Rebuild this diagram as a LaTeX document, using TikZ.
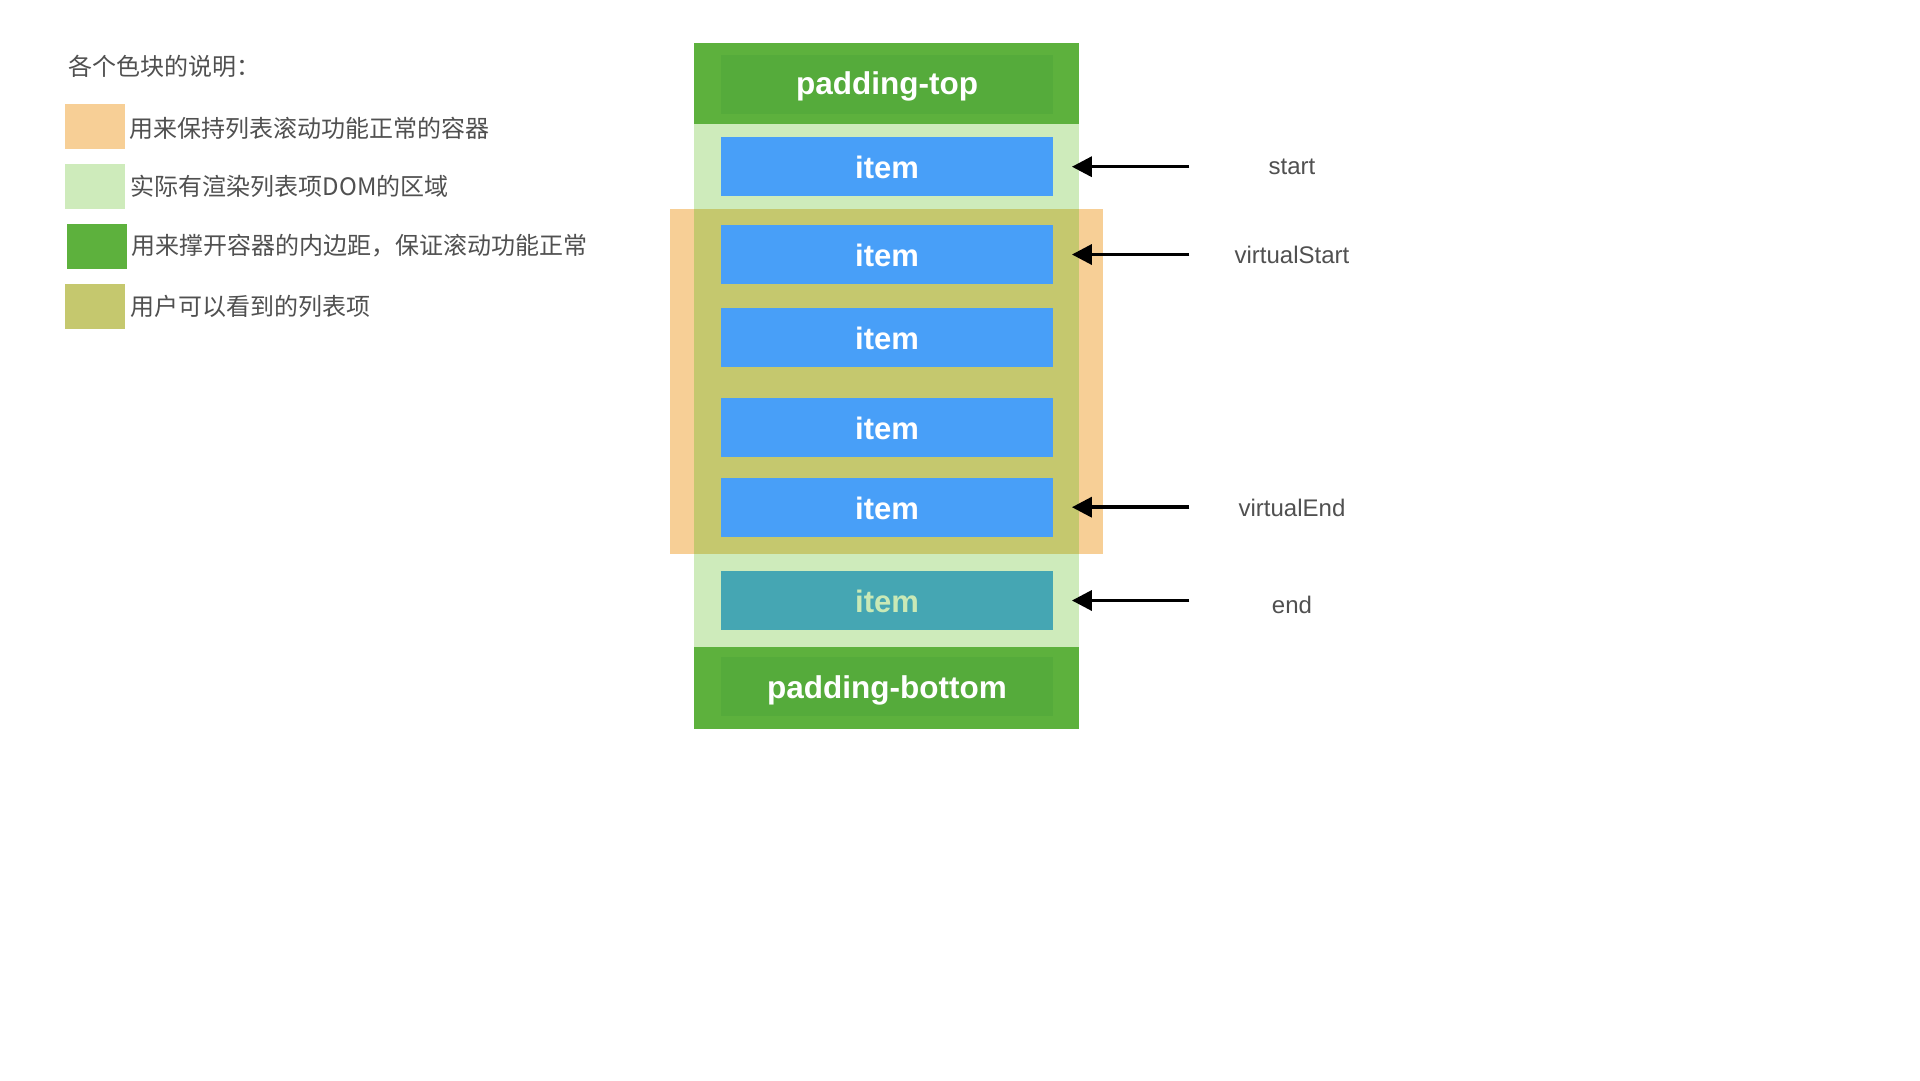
\documentclass[tikz,border=0pt]{standalone}
\usepackage{fontspec}
\setmainfont{Liberation Sans}
\newfontfamily\cjk{Noto Sans CJK SC}
\usetikzlibrary{arrows.meta}
\definecolor{dgreen}{HTML}{5DB13D}
\definecolor{dgreenin}{HTML}{55AB3B}
\definecolor{lgreen}{HTML}{CEEBBB}
\definecolor{orng}{HTML}{F7CF96}
\definecolor{olive}{HTML}{C5C86E}
\definecolor{iblue}{HTML}{489FF8}
\definecolor{tealbox}{HTML}{45A6B3}
\definecolor{tealtxt}{HTML}{C9E9B6}
\definecolor{gtxt}{HTML}{505050}
\tikzset{
  itembox/.style={fill=iblue, minimum width=332pt, minimum height=59pt, inner sep=0pt,
    text height=24.5pt, text depth=0pt,
    text=white, font=\fontsize{31}{36}\selectfont\bfseries},
  padbox/.style={fill=dgreenin, minimum width=332pt, minimum height=59pt, inner sep=0pt,
    text height=26.2pt, text depth=6.6pt,
    text=white, font=\fontsize{31.5}{36}\selectfont\bfseries},
  swatch/.style={minimum width=60pt, minimum height=45pt, inner sep=0pt, anchor=north west},
  legtext/.style={anchor=west, inner sep=0pt, text=gtxt, font=\cjk\fontsize{24}{29}\selectfont},
  lbl/.style={text=gtxt, font=\fontsize{24}{29}\selectfont, inner sep=0pt},
  ptr/.style={line width=3.5pt, -{Triangle[length=20pt,width=20pt]}}
}
\begin{document}
\begin{tikzpicture}[x=1pt,y=-1pt]
\fill[white] (0,0) rectangle (1920,1080);
\useasboundingbox (0,0) rectangle (1920,1080);

% legend
\node[anchor=west, inner sep=0pt, text=gtxt, font=\cjk\fontsize{24}{29}\selectfont] (title) at (68.3,66.7) {各个色块的说明：};
\node[swatch, fill=orng] (s1) at (65,104) {};
\node[swatch, fill=lgreen] (s2) at (65,163.3) {};
\node[swatch, fill=dgreen] (s3) at (66.5,223.5) {};
\node[swatch, fill=olive] (s4) at (65,283.5) {};
\node[legtext] (t1) at (129.5,128.5) {用来保持列表滚动功能正常的容器};
\node[legtext] (t2) at (130.5,186.7) {实际有渲染列表项DOM的区域};
\node[legtext] (t3) at (131.5,246) {用来撑开容器的内边距，保证滚动功能正常};
\node[legtext] (t4) at (130.5,306) {用户可以看到的列表项};

% container regions
\fill[lgreen] (694,124) rectangle (1079,646.7);
\fill[orng] (670,209) rectangle (1103.3,553.7);
\fill[olive] (694,209) rectangle (1079,553.7);
\fill[dgreen] (694,42.7) rectangle (1079,124);
\fill[dgreen] (694,646.7) rectangle (1079,728.7);

% padding boxes
\node[padbox] (ptop) at (887,84.5) {padding-top};
\node[padbox, text height=32pt] (pbot) at (887,686.2) {padding-bottom};

% items
\node[itembox] (i1) at (887,166.7) {item};
\node[itembox] (i2) at (887,254.5) {item};
\node[itembox] (i3) at (887,337.5) {item};
\node[itembox] (i4) at (887,427.3) {item};
\node[itembox] (i5) at (887,507.2) {item};
\node[itembox, fill=tealbox, text=tealtxt] (i6) at (887,600.5) {item};

% labels
\node[lbl] (lstart) at (1292,167) {start};
\node[lbl] (lvs) at (1292,255) {virtualStart};
\node[lbl] (lve) at (1292,508) {virtualEnd};
\node[lbl] (lend) at (1292,605) {end};

% arrow tails
\coordinate (a1) at (1189.3,166.7);
\coordinate (a2) at (1189.3,254.5);
\coordinate (a3) at (1189.3,507.2);
\coordinate (a4) at (1189.3,600.5);

\draw[ptr] (a1) -- ([xshift=18.7pt]i1.east);
\draw[ptr] (a2) -- ([xshift=18.7pt]i2.east);
\draw[ptr] (a3) -- ([xshift=18.7pt]i5.east);
\draw[ptr] (a4) -- ([xshift=18.7pt]i6.east);
\end{tikzpicture}
\end{document}
